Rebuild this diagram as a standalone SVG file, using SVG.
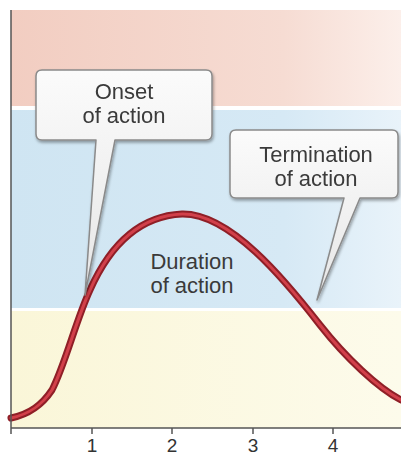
<svg xmlns="http://www.w3.org/2000/svg" width="401" height="458" viewBox="0 0 401 458">
<defs>
<linearGradient id="pink" x1="0" x2="1" y1="0" y2="0"><stop offset="0" stop-color="#f2cdc1"/><stop offset="0.7" stop-color="#f6dcd3"/><stop offset="1" stop-color="#fcefea"/></linearGradient>
<linearGradient id="blue" x1="0" x2="1" y1="0" y2="0"><stop offset="0" stop-color="#cfe5f2"/><stop offset="0.7" stop-color="#d6e9f5"/><stop offset="1" stop-color="#e9f3fa"/></linearGradient>
<linearGradient id="yellow" x1="0" x2="1" y1="0" y2="0"><stop offset="0" stop-color="#faf6d8"/><stop offset="1" stop-color="#fdfbeb"/></linearGradient>
<linearGradient id="box" x1="0" x2="0" y1="0" y2="1"><stop offset="0" stop-color="#fbfbfb"/><stop offset="1" stop-color="#e6e6e6"/></linearGradient>
<filter id="sh" x="-10%" y="-10%" width="130%" height="130%"><feGaussianBlur in="SourceAlpha" stdDeviation="1.5"/><feOffset dx="1" dy="2"/><feComponentTransfer><feFuncA type="linear" slope="0.35"/></feComponentTransfer><feMerge><feMergeNode/><feMergeNode in="SourceGraphic"/></feMerge></filter>
</defs>
<style>
.lbl{font-family:"Liberation Sans",Arial,sans-serif;font-size:22px;fill:#3a3a3a;text-anchor:middle}
.num{font-family:"Liberation Sans",Arial,sans-serif;font-size:19px;fill:#333;text-anchor:middle}
.call{fill:url(#box);stroke:#8a8a8a;stroke-width:1.5;stroke-linejoin:round}
.ax{stroke:#555;stroke-width:1.5;fill:none}
</style>
<rect width="401" height="458" fill="#ffffff"/>
<g id="bands">
<rect x="11" y="10" width="390" height="96" fill="url(#pink)"/>
<rect x="11" y="110" width="390" height="198" fill="url(#blue)"/>
<rect x="11" y="311" width="390" height="117" fill="url(#yellow)"/>
</g>
<g id="curve">
<path d="M11,418 C30,414 42,405 52,390 C65,365 76,320 90,290 C110,245 140,216 182,214 C230,213 285,280 320,325 C346,358 378,388 401,400" fill="none" stroke="#8f1f27" stroke-width="7" stroke-linecap="round"/>
<path d="M11,418 C30,414 42,405 52,390 C65,365 76,320 90,290 C110,245 140,216 182,214 C230,213 285,280 320,325 C346,358 378,388 401,400" fill="none" stroke="#d2404a" stroke-width="3" stroke-linecap="round"/>
</g>
<g id="axes">
<path class="ax" d="M11,10 V434 M11,428 H401 M92,428 V434 M172,428 V434 M253,428 V434 M333,428 V434"/>
<text class="num" x="92" y="452">1</text>
<text class="num" x="172" y="452">2</text>
<text class="num" x="253" y="452">3</text>
<text class="num" x="333" y="452">4</text>
</g>
<g id="onset" filter="url(#sh)">
<path class="call" d="M42,70 H206 Q212,70 212,76 V134 Q212,140 206,140 H115 L85,295 L96,140 H42 Q36,140 36,134 V76 Q36,70 42,70 Z"/>
<text class="lbl" x="124" y="99">Onset</text>
<text class="lbl" x="124" y="123">of action</text>
</g>
<g id="termination" filter="url(#sh)">
<path class="call" d="M236,130 H392 Q398,130 398,136 V192 Q398,198 392,198 H360 L317,300 L344,198 H236 Q230,198 230,192 V136 Q230,130 236,130 Z"/>
<text class="lbl" x="316" y="162">Termination</text>
<text class="lbl" x="316" y="186">of action</text>
</g>
<g id="duration">
<text class="lbl" x="192" y="269">Duration</text>
<text class="lbl" x="192" y="293">of action</text>
</g>
</svg>
